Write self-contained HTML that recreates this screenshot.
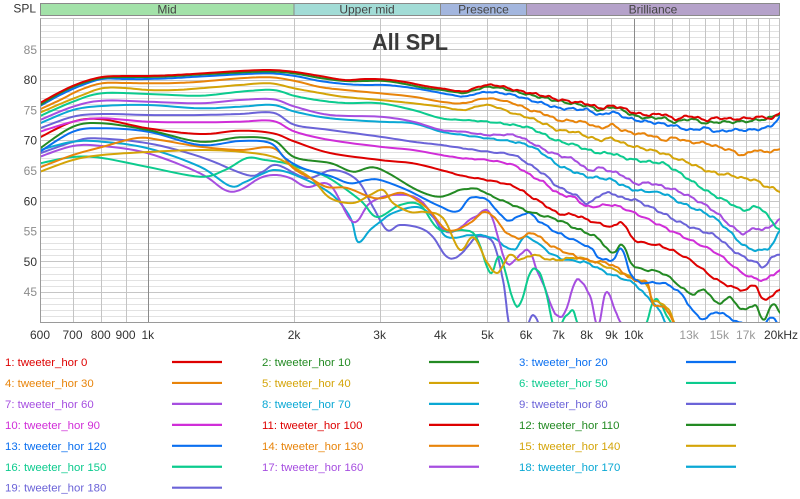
<!DOCTYPE html>
<html>
<head>
<meta charset="utf-8">
<style>
  html,body{margin:0;padding:0;background:#fff;}
  body{width:800px;height:499px;overflow:hidden;}
  svg{display:block;font-family:"Liberation Sans",Arial,sans-serif;}
</style>
</head>
<body>
<svg id="chart" width="800" height="499" viewBox="0 0 800 499" xmlns="http://www.w3.org/2000/svg">
  <defs>
    <clipPath id="plotclip"><rect x="40" y="18.5" width="740" height="303.5"/></clipPath>
  </defs>
  <rect x="0" y="0" width="800" height="499" fill="#fff"/>
  <!-- header bands -->
  <g stroke="#8a8a8a" stroke-width="1">
    <rect x="40.5" y="3.5" width="253.5" height="12" fill="#a3e2a9"/>
    <rect x="294" y="3.5" width="146.5" height="12" fill="#a2dcd6"/>
    <rect x="440.5" y="3.5" width="86" height="12" fill="#a3b6de"/>
    <rect x="526.5" y="3.5" width="253" height="12" fill="#b5a2ca"/>
  </g>
  <g font-size="12" fill="#444" text-anchor="middle">
    <text x="167" y="13.5">Mid</text>
    <text x="367" y="13.5">Upper mid</text>
    <text x="483.5" y="13.5">Presence</text>
    <text x="653" y="13.5">Brilliance</text>
  </g>
  <text x="36" y="12.5" font-size="12" fill="#333" text-anchor="end">SPL</text>
  <g id="grid"></g>
  <text x="372" y="50" font-size="23" font-weight="bold" fill="#3a3a3a" textLength="76" lengthAdjust="spacingAndGlyphs">All SPL</text>
  <g id="curves" clip-path="url(#plotclip)" fill="none" stroke-width="2" stroke-linejoin="round" stroke-linecap="round"></g>
  <g id="axes"></g>
  <g id="legend"></g>
</svg>
<script>
(function(){
  var NS="http://www.w3.org/2000/svg";
  function el(tag, attrs, parent, text){
    var e=document.createElementNS(NS,tag);
    for(var k in attrs) e.setAttribute(k, attrs[k]);
    if(text!==undefined) e.textContent=text;
    parent.appendChild(e); return e;
  }
  var L=Math.log(20000/600);
  function X(f){return 40+740*Math.log(f/600)/L;}
  function Y(d){return 322-(d-40)*6.06;}
  var grid=document.getElementById('grid');
  // horizontal grid
  for(var d=41; d<=89; d++){
    var y=Math.round(Y(d))+0.5;
    el('line',{x1:40,x2:780,y1:y,y2:y,stroke:(d%5===0)?'#c6c6c6':'#e2e2e2','stroke-width':1},grid);
  }
  // vertical grid
  var vf=[700,800,900,1000,2000,3000,4000,5000,6000,7000,8000,9000,10000,11000,12000,13000,14000,15000,16000,17000,18000,19000];
  vf.forEach(function(f){
    var x=Math.round(X(f))+0.5;
    var dark=(f===1000||f===10000);
    el('line',{x1:x,x2:x,y1:18.5,y2:322,stroke:dark?'#8a8a8a':'#c4c4c4','stroke-width':1},grid);
  });
  // frame
  el('line',{x1:40,x2:780,y1:18.5,y2:18.5,stroke:'#c4c4c4','stroke-width':1},grid);
  el('line',{x1:779.5,x2:779.5,y1:18.5,y2:322,stroke:'#c4c4c4','stroke-width':1},grid);

  var axes=document.getElementById('axes');
  el('line',{x1:40.5,x2:40.5,y1:18.5,y2:322.5,stroke:'#9a9a9a','stroke-width':1},axes);
  el('line',{x1:40,x2:780,y1:322.5,y2:322.5,stroke:'#9a9a9a','stroke-width':1},axes);
  // y labels
  [85,80,75,70,65,60,55,50,45].forEach(function(v){
    el('text',{x:37,y:Y(v)+4.5,'font-size':12,'text-anchor':'end',fill:(v%10===0)?'#333':'#8c8c8c'},axes,String(v));
  });
  // x labels
  var xl=[[600,'600',1],[700,'700',1],[800,'800',1],[900,'900',1],[1000,'1k',1],[2000,'2k',1],[3000,'3k',1],[4000,'4k',1],[5000,'5k',1],[6000,'6k',1],[7000,'7k',1],[8000,'8k',1],[9000,'9k',1],[10000,'10k',1],[13000,'13k',0],[15000,'15k',0],[17000,'17k',0]];
  xl.forEach(function(a){
    el('text',{x:X(a[0]),y:339,'font-size':12,'text-anchor':'middle',fill:a[2]?'#333':'#999'},axes,a[1]);
  });
  el('text',{x:764,y:339,'font-size':12,fill:'#333'},axes,'20kHz');

  var C={red:'#de0000',green:'#238a23',blue:'#0a6ff0',orange:'#e8840a',gold:'#d4a408',teal:'#0ccb8e',purple:'#a64ee0',cyan:'#0aa8d4',slate:'#6b63d8',magenta:'#d02ed8'};

  var S=[
   // 0 red0
   ['red',[[40,103],[60,92],[80,83],[102,77],[125,76],[148,76],[175,75],[200,73.5],[240,71],[270,70],[295,72],[320,76],[345,80],[365,79],[385,79.5],[405,82],[425,86],[445,89],[463,91.5],[475,88],[487,85],[500,86],[513,89.5],[530,93],[545,96],[558,99.5],[575,102],[588,104],[600,108],[612,106],[622,108],[635,113],[650,115],[663,114],[675,119],[690,116],[705,120],[717,118],[733,119],[750,118],[765,117],[772,119],[780,112]]],
   // 1 green10
   ['green',[[40,105],[60,93],[80,84],[102,78],[125,77],[148,77],[175,76],[200,74.5],[240,72.5],[270,71.5],[295,73.5],[320,78],[345,81],[365,81],[385,81],[405,84],[425,88],[445,90.5],[463,93],[475,90],[487,87],[500,88],[513,91],[530,95],[545,98],[558,101],[575,104],[588,106],[600,110],[612,107],[622,110],[635,116],[650,118],[663,118],[675,122],[690,119],[705,123],[717,122],[733,122],[750,121],[765,119],[772,117],[780,113]]],
   // 2 blue20
   ['blue',[[40,106],[60,95],[80,86],[102,79],[125,79],[148,79],[175,78],[200,76.5],[240,74.3],[270,73.3],[295,76],[320,81],[345,84],[365,85],[385,85],[405,87],[425,90],[441,93],[463,96.5],[475,94],[487,92],[500,93],[513,95],[530,100],[545,104],[558,108],[575,109],[588,110],[600,115],[612,112],[622,116],[635,120],[650,122],[663,124],[675,126],[690,130],[705,128],[717,131.5],[733,130],[750,130],[765,128],[772,125],[780,117]]],
   // 3 orange30
   ['orange',[[40,109.3],[60,100],[80,90],[102,83.3],[125,83],[148,83.3],[175,83],[200,81.7],[240,78.3],[270,77.3],[295,81],[320,87],[345,90],[380,93.3],[413,96.7],[441,101.7],[463,103.3],[487,98.3],[513,103.3],[530,110],[545,114],[558,120],[575,121],[588,123.3],[600,128],[612,125],[622,130],[635,133.3],[650,135],[663,140],[675,138],[690,142],[705,143],[717,146.7],[730,150],[743,155],[755,150],[763,152],[772,151],[780,150]]],
   // 4 gold40
   ['gold',[[40,112.7],[60,104],[80,96],[102,88.3],[125,88],[148,90],[175,90],[200,88.3],[240,85],[270,83.3],[295,88.5],[320,93],[345,97],[380,100],[413,103.3],[441,106.7],[463,110],[487,105],[513,113.3],[530,118],[545,124],[558,130],[575,132],[588,136.7],[600,140],[612,138.3],[622,143],[635,146.7],[650,150],[663,153.3],[675,158],[690,163.3],[705,170],[717,173.3],[730,175],[743,178.3],[755,180],[763,185],[772,188],[780,191.7]]],
   // 5 teal50
   ['teal',[[40,116],[73,101.7],[102,93.3],[148,94],[200,95.7],[240,91.7],[273,90],[295,96],[320,100.5],[345,103],[380,103.3],[413,110],[441,118.3],[463,120],[487,121.7],[513,125],[530,128],[545,135],[558,141],[575,145],[588,150],[600,153],[612,153.3],[622,157],[635,160],[650,162],[663,163.3],[675,170],[690,180],[705,190],[717,196.7],[730,203],[743,210],[755,207],[763,210],[772,222],[780,230]]],
   // 6 purple60
   ['purple',[[40,120],[73,106.7],[102,100.7],[148,101.7],[200,103.3],[240,100],[273,99.3],[295,106.7],[330,115],[380,116.7],[413,121.7],[441,130],[463,131.7],[487,135],[513,135],[530,142],[545,150],[558,155],[575,160],[588,170],[600,168],[612,171.7],[622,175],[635,183.3],[650,183],[663,186.7],[675,190],[690,196.7],[705,205],[717,213.3],[730,225],[743,233.3],[755,228],[763,230],[772,225],[780,220]]],
   // 7 cyan70
   ['cyan',[[40,123.3],[73,110],[102,106],[148,105],[200,108.3],[240,106.7],[273,105],[295,111.7],[330,118.3],[380,121.7],[413,123.3],[441,131.7],[463,135],[487,138.3],[513,141.7],[530,146],[545,155],[558,165],[575,172],[588,176.7],[600,178],[612,180],[622,185],[635,190],[663,193.3],[675,200],[690,206.7],[705,213],[717,220],[730,232],[743,245],[755,250],[763,250],[772,245],[780,230]]],
   // 8 slate80
   ['slate',[[40,128.3],[73,116.7],[102,114],[148,115],[200,115],[240,114],[273,112.7],[295,125],[330,130],[380,136.7],[413,141.7],[441,145],[463,148.3],[487,151.7],[513,155],[530,165],[545,175],[558,186.7],[575,195],[588,203.3],[600,195],[612,193.3],[622,198],[635,200],[650,207],[663,213.3],[675,220],[690,226.7],[705,232],[717,236.7],[730,248],[743,256.7],[755,262],[763,266.7],[772,258],[780,253.3]]],
   // 9 magenta90
   ['magenta',[[40,131.7],[73,121.7],[102,118.3],[148,121.7],[200,122.3],[240,121.7],[273,121],[295,131.7],[330,140],[380,146.7],[413,150],[441,155],[463,158.3],[487,160],[513,165],[530,175],[545,183.3],[558,193.3],[575,198],[588,206.7],[612,205],[635,213.3],[663,226.7],[690,240],[717,253.3],[743,273.3],[763,280],[772,275],[780,270]]],
   // 10 red100
   ['red',[[40,137.3],[73,121.7],[102,119.3],[148,128.3],[200,134],[240,130.7],[273,133.3],[295,141.7],[330,153],[380,160],[413,163.3],[441,170],[463,176],[487,180],[513,186],[530,196],[545,205],[558,213.3],[575,215],[588,220],[612,226.7],[622,222],[635,240],[663,246.7],[690,260],[717,280],[743,290],[755,285],[763,300],[772,295],[780,290]]],
   // 11 green110
   ['green',[[40,148.3],[73,126.7],[102,123.3],[148,130],[200,141.7],[240,137.3],[273,140],[295,157.5],[330,163],[353,171.7],[377,168],[417,190],[440,196.7],[460,190],[477,189],[493,196.7],[513,205],[530,212],[558,220],[575,228],[588,233.3],[600,240],[612,253.3],[622,245],[635,266.7],[663,273.3],[690,293.3],[705,290],[717,303.3],[730,298],[743,310],[755,305],[763,320],[772,305],[780,312]]],
   // 12 blue120
   ['blue',[[40,151.7],[73,131.7],[102,128.3],[148,131.7],[200,145],[240,141],[270,143],[285,158],[303,168.3],[330,176],[350,183.3],[367,180],[380,180],[407,190],[437,205],[457,211.7],[470,198.3],[487,200],[507,220],[527,213],[540,221.7],[558,233],[588,246.7],[600,258],[612,260],[622,250],[635,280],[663,283.3],[680,293],[700,318],[717,312],[730,318],[743,324],[760,326],[772,318],[780,326]]],
   // 13 orange130
   ['orange',[[40,167.3],[73,155],[102,147],[137,138],[160,140],[200,146.7],[240,150],[273,148],[293,168],[310,178],[327,187],[347,188],[370,197],[383,198],[403,193],[427,208],[447,230],[467,225],[487,212],[507,233],[520,238],[533,233],[547,243],[560,250],[587,260],[607,263],[620,270],[633,280],[647,283],[653,303],[667,310],[677,328],[690,335]]],
   // 14 gold140
   ['gold',[[40,171.7],[73,160],[102,155],[148,152],[200,150],[240,151.7],[273,156.7],[295,168],[313,180],[330,198],[353,203],[370,195],[383,190],[393,203],[410,212],[425,212],[443,218],[460,250],[473,237],[487,262],[497,273],[510,255],[520,260],[533,255],[553,260],[580,258],[607,267],[633,278],[647,285],[653,300],[667,307],[677,328],[690,335]]],
   // 15 teal150
   ['teal',[[40,163.3],[73,157],[102,158],[148,167],[200,176.7],[225,170],[247,158],[265,160],[285,163],[300,168],[327,177],[360,200],[377,217],[400,205],[420,205],[440,230],[473,233],[490,273],[500,257],[517,307],[530,273],[540,273],[547,297],[555,330],[565,318],[573,310],[580,328],[600,335],[640,330],[653,303],[660,302],[670,322],[685,335]]],
   // 16 purple160
   ['purple',[[40,156.7],[73,146],[102,146],[148,153.3],[200,173.3],[225,190],[240,190],[260,178],[275,175],[290,178],[307,187],[330,185],[353,222],[370,203],[393,195],[420,200],[447,232],[473,218],[490,213],[507,263],[527,250],[540,277],[560,318],[577,280],[590,297],[598,325],[607,292],[620,322],[633,330]]],
   // 17 cyan170
   ['cyan',[[40,150],[73,141.7],[102,141.7],[148,148.3],[200,166.7],[230,186],[245,182],[262,174],[275,170],[295,175],[330,193],[350,217],[358,242],[370,230],[380,222],[393,213],[417,207],[433,217],[447,237],[473,235],[493,238],[513,250],[527,237],[557,257],[587,263],[607,273],[633,283],[647,297],[657,307],[670,328],[690,335]]],
   // 18 slate180
   ['slate',[[40,153.3],[73,142],[95,138.3],[148,143.3],[200,156.7],[247,175],[262,172],[277,165],[307,178],[333,170],[357,180],[373,207],[387,230],[400,225],[420,228],[433,237],[447,257],[460,255],[477,237],[493,243],[503,280],[510,328],[522,335],[533,315],[542,335]]]
  ];

  function wig(x,i){
    if(x<430) return 0;
    var a=0.9*Math.min(1,(x-430)/120);
    return a*(Math.sin(x*0.42+i*1.7)+0.5*Math.sin(x*0.97+i*0.6));
  }
  var curves=document.getElementById('curves');
  for(var s=S.length-1; s>=0; s--){
    var pts=S[s][1], col=C[S[s][0]];
    var out=[];
    for(var i=0;i<pts.length-1;i++){
      var p0=pts[Math.max(0,i-1)], p1=pts[i], p2=pts[i+1], p3=pts[Math.min(pts.length-1,i+2)];
      var n=8;
      for(var k=0;k<n;k++){
        var t=k/n, t2=t*t, t3=t2*t;
        var x=0.5*((2*p1[0])+(-p0[0]+p2[0])*t+(2*p0[0]-5*p1[0]+4*p2[0]-p3[0])*t2+(-p0[0]+3*p1[0]-3*p2[0]+p3[0])*t3);
        var y=0.5*((2*p1[1])+(-p0[1]+p2[1])*t+(2*p0[1]-5*p1[1]+4*p2[1]-p3[1])*t2+(-p0[1]+3*p1[1]-3*p2[1]+p3[1])*t3);
        out.push([x,y+wig(x,s)]);
      }
    }
    var last=pts[pts.length-1]; out.push([last[0],last[1]+wig(last[0],s)]);
    var d='M'+out.map(function(p){return p[0].toFixed(1)+','+p[1].toFixed(1);}).join(' L');
    el('path',{d:d,stroke:col},curves);
  }

  // legend
  var leg=document.getElementById('legend');
  var names=[
    [0,'1: tweeter_hor 0','red'],[1,'2: tweeter_hor 10','green'],[2,'3: tweeter_hor 20','blue'],
    [3,'4: tweeter_hor 30','orange'],[4,'5: tweeter_hor 40','gold'],[5,'6: tweeter_hor 50','teal'],
    [6,'7: tweeter_hor 60','purple'],[7,'8: tweeter_hor 70','cyan'],[8,'9: tweeter_hor 80','slate'],
    [9,'10: tweeter_hor 90','magenta'],[10,'11: tweeter_hor 100','red'],[11,'12: tweeter_hor 110','green'],
    [12,'13: tweeter_hor 120','blue'],[13,'14: tweeter_hor 130','orange'],[14,'15: tweeter_hor 140','gold'],
    [15,'16: tweeter_hor 150','teal'],[16,'17: tweeter_hor 160','purple'],[17,'18: tweeter_hor 170','cyan'],
    [18,'19: tweeter_hor 180','slate']
  ];
  var tx=[5,262,519], lx=[172,429,686];
  names.forEach(function(n){
    var idx=n[0], col=idx%3, row=Math.floor(idx/3);
    var cy=362+row*20.95;
    var c=C[n[2]];
    el('text',{x:tx[col],y:cy+4,'font-size':11.4,fill:c},leg,n[1]);
    el('line',{x1:lx[col],x2:lx[col]+50,y1:cy,y2:cy,stroke:c,'stroke-width':2.2},leg);
  });
})();
</script>
</body>
</html>
